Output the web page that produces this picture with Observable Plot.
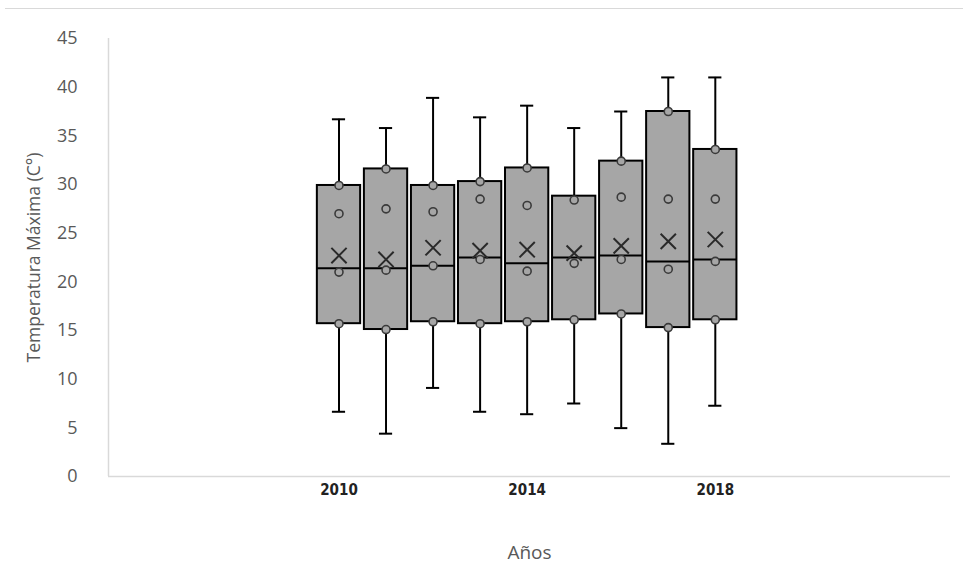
<!DOCTYPE html>
<html>
<head>
<meta charset="utf-8">
<script src="https://cdn.jsdelivr.net/npm/d3@7"></script>
<script src="https://cdn.jsdelivr.net/npm/@observablehq/plot@0.6"></script>
<style>
  body { margin: 0; background: #fff; }
  #wrap { position: relative; width: 963px; height: 581px; }
  #topline { position: absolute; top: 8px; left: 5px; right: 0; border-top: 1px solid #d9d9d9; }
</style>
</head>
<body>
<div id="wrap"><div id="topline"></div></div>
<script>
const years       = [2010, 2011, 2012, 2013, 2014, 2015, 2016, 2017, 2018];
const whiskerHigh = [36.7, 35.8, 38.9, 36.9, 38.1, 35.8, 37.5, 41.0, 41.0];
const q3          = [29.9, 31.6, 29.9, 30.3, 31.7, 28.8, 32.4, 37.5, 33.6];
const median      = [21.4, 21.4, 21.65, 22.5, 21.9, 22.5, 22.7, 22.1, 22.3];
const q1          = [15.7, 15.1, 15.9, 15.7, 15.9, 16.1, 16.7, 15.3, 16.1];
const whiskerLow  = [6.65, 4.4, 9.1, 6.65, 6.4, 7.5, 4.97, 3.36, 7.27];
const mean        = [22.7, 22.3, 23.5, 23.2, 23.3, 22.95, 23.7, 24.15, 24.35];
const innerPoints = [
  [29.9, 27.0, 21.0, 15.7],
  [31.6, 27.5, 21.2, 15.1],
  [29.9, 27.2, 21.65, 15.9],
  [30.3, 28.5, 22.3, 15.7],
  [31.7, 27.85, 21.1, 15.9],
  [28.4, 21.9, 16.1],
  [32.4, 28.7, 22.3, 16.7],
  [37.5, 28.5, 21.3, 15.3],
  [33.6, 28.5, 22.1, 16.1]
];
const xTicks = [2010, 2014, 2018];
const yTicks = [0, 5, 10, 15, 20, 25, 30, 35, 40, 45];
const xDomain = [2005.1, 2023];
const yTitle = "Temperatura Máxima (C°)";
const xTitle = "Años";

const stats = years.map((year, i) => ({
  year, lo: whiskerLow[i], q1: q1[i], med: median[i], q3: q3[i], hi: whiskerHigh[i], mean: mean[i]
}));
const pts = years.flatMap((year, i) => innerPoints[i].map(v => ({year, v})));

const halfBox = 0.46, halfCap = 0.14;

const chart = Plot.plot({
  width: 963,
  height: 581,
  marginTop: 38,
  marginBottom: 105,
  marginLeft: 108,
  marginRight: 13,
  style: {background: "transparent", overflow: "visible"},
  x: {domain: xDomain},
  y: {domain: [0, 45]},
  marks: [
    Plot.ruleY([0], {stroke: "#d9d9d9", strokeWidth: 1.5}),
    Plot.ruleX([xDomain[0]], {y1: 0, y2: 45, stroke: "#d9d9d9", strokeWidth: 1.5}),
    Plot.axisY({ticks: yTicks, tickSize: 0, tickPadding: 31, fontSize: 18, fill: "#595959",
      fontFamily: "Open Sans", label: null}),
    Plot.text([yTitle], {frameAnchor: "left", textAnchor: "middle", lineAnchor: "middle", rotate: -90, dx: -74,
      fontSize: 17.5, fill: "#595959", fontFamily: "Open Sans"}),
    Plot.axisX({ticks: xTicks, tickSize: 0, tickPadding: 8, fontSize: 15, fontWeight: "bold",
      fill: "#222", fontFamily: "DejaVu Sans Condensed", tickFormat: d => String(d),
      label: null}),
    Plot.text([xTitle], {frameAnchor: "bottom", lineAnchor: "middle", dy: 76, fontSize: 19, fill: "#595959", fontFamily: "Open Sans"}),
    // whiskers
    Plot.ruleX(stats, {x: "year", y1: "lo", y2: "q1", stroke: "#000", strokeWidth: 2}),
    Plot.ruleX(stats, {x: "year", y1: "q3", y2: "hi", stroke: "#000", strokeWidth: 2}),
    Plot.ruleY(stats, {y: "hi", x1: d => d.year - halfCap, x2: d => d.year + halfCap, stroke: "#000", strokeWidth: 2}),
    Plot.ruleY(stats, {y: "lo", x1: d => d.year - halfCap, x2: d => d.year + halfCap, stroke: "#000", strokeWidth: 2}),
    // boxes
    Plot.rect(stats, {x1: d => d.year - halfBox, x2: d => d.year + halfBox, y1: "q1", y2: "q3",
      fill: "#a6a6a6", stroke: "#000", strokeWidth: 2}),
    Plot.ruleY(stats, {y: "med", x1: d => d.year - halfBox, x2: d => d.year + halfBox, stroke: "#000", strokeWidth: 2}),
    // points
    Plot.dot(pts, {x: "year", y: "v", r: 4, fill: "#a6a6a6", stroke: "#3a3a3a", strokeWidth: 1.6}),
    // mean markers
    Plot.dot(stats, {x: "year", y: "mean", symbol: "times", r: 7, stroke: "#2a2a2a", strokeWidth: 2})
  ]
});
document.getElementById("wrap").appendChild(chart);
</script>
</body>
</html>
